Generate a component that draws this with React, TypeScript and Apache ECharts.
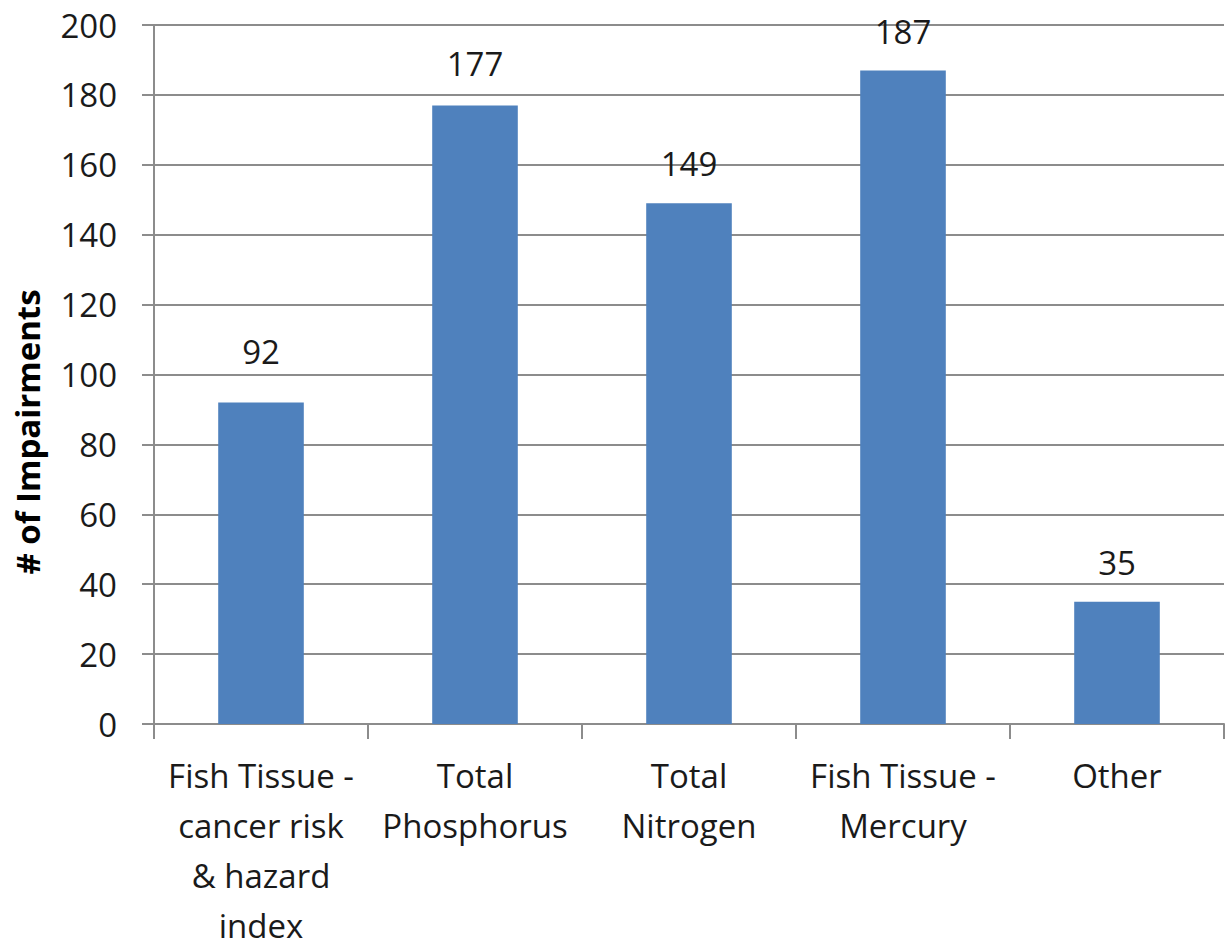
import React, { useEffect, useRef } from "react";
import * as echarts from "echarts";

const categories = [
  "Fish Tissue -\ncancer risk\n& hazard\nindex",
  "Total\nPhosphorus",
  "Total\nNitrogen",
  "Fish Tissue -\nMercury",
  "Other",
];
const values = [92, 177, 149, 187, 35];
const yTitle = "# of Impairments";
// label gap above each bar (style only)
const labelGaps = [34, 25, 23, 22, 23];

export default function App() {
  const ref = useRef<HTMLDivElement>(null);
  useEffect(() => {
    const chart = echarts.init(ref.current!, null, { renderer: "svg" });
    const font = "'Open Sans', 'Noto Sans', sans-serif";
    chart.setOption({
      animation: false,
      grid: { left: 154, right: 6, top: 25, bottom: 227, containLabel: false, outerBoundsMode: "none" },
      xAxis: {
        type: "category",
        data: categories,
        boundaryGap: true,
        axisLine: { lineStyle: { color: "#8c8c8c", width: 2 } },
        axisTick: { show: true, alignWithLabel: false, length: 15, lineStyle: { color: "#8c8c8c", width: 2 } },
        axisLabel: {
          interval: 0,
          color: "#1a1a1a",
          fontFamily: font,
          fontSize: 33,
          lineHeight: 50,
          margin: 26,
          align: "center",
        },
      },
      yAxis: {
        type: "value",
        min: 0,
        max: 200,
        interval: 20,
        axisLine: { show: true, lineStyle: { color: "#8c8c8c", width: 2 } },
        axisTick: { show: true, length: 12, lineStyle: { color: "#8c8c8c", width: 2 } },
        splitLine: { lineStyle: { color: "#8c8c8c", width: 2 } },
        axisLabel: { color: "#1a1a1a", fontFamily: font, fontSize: 33, margin: 37 },
      },
      graphic: [
        {
          type: "text",
          x: 27,
          y: 432,
          rotation: Math.PI / 2,
          style: {
            text: yTitle,
            fontFamily: font,
            fontSize: 33,
            fontWeight: "bold",
            fill: "#000",
            align: "center",
            verticalAlign: "middle",
          },
        },
      ],
      series: [
        {
          type: "bar",
          data: values.map((v, i) => ({ value: v, label: { distance: labelGaps[i] } })),
          barWidth: "40%",
          itemStyle: { color: "#4F81BD" },
          label: {
            show: true,
            position: "top",
            color: "#1a1a1a",
            fontFamily: font,
            fontSize: 33,
          },
        },
      ],
    });
    return () => chart.dispose();
  }, []);
  return <div ref={ref} style={{ width: 1230, height: 951, position: "absolute", left: 0, top: 0 }} />;
}
